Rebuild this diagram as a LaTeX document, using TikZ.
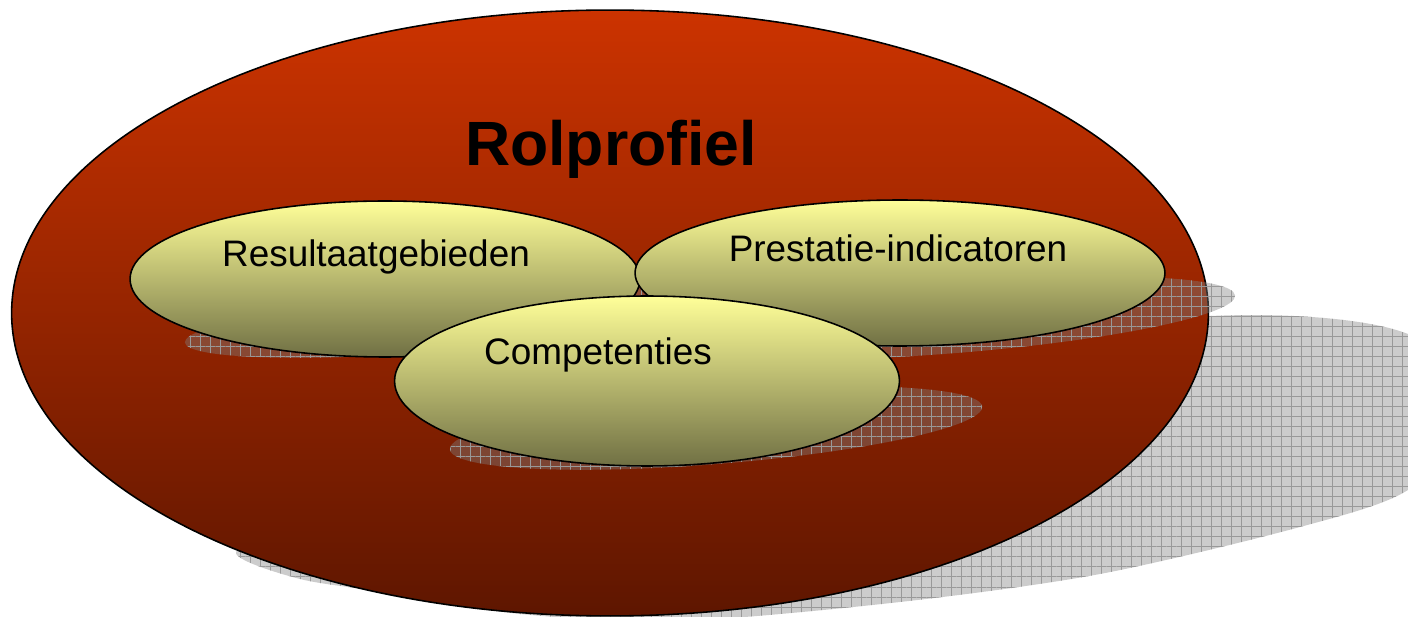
\documentclass[tikz,border=0pt]{standalone}
\usepackage{fontspec}
\setmainfont{Liberation Sans}
\usepackage{xcolor}
\usetikzlibrary{shapes.geometric, patterns.meta}
\definecolor{rolTop}{RGB}{204,51,0}
\definecolor{rolBot}{RGB}{94,22,0}
\definecolor{elTop}{RGB}{255,255,153}
\definecolor{elMid}{RGB}{230,230,142}
\definecolor{elBot}{RGB}{112,112,68}

\begin{document}
\begin{tikzpicture}[x=0.02cm, y=-0.02cm,
  every node/.style={font=\fontsize{21}{25}\selectfont},
  rol/.style={draw, ellipse, line width=0.9pt, top color=rolTop, bottom color=rolBot, inner sep=0pt},
  el/.style={draw, ellipse, line width=0.9pt, top color=elTop, middle color=elMid, bottom color=elBot, inner sep=0pt},
  shfill/.style={fill=gray, fill opacity=0.4},
  shgrid/.style={pattern={Hatch[distance=5.7pt, line width=0.5pt]}, pattern color=gray!80, fill opacity=0.75},
  lbl/.style={anchor=base, inner sep=0pt}]
\useasboundingbox (0,0) rectangle (1408,617);
\fill[shfill] plot[smooth cycle] coordinates {(236,552) (300,579) (400,594) (520,614) (680,621) (900,602) (1100,574) (1300,527) (1408,490) (1470,420) (1408,334) (1210,316) (800,360) (400,470) (320,524)};
\fill[shgrid] plot[smooth cycle] coordinates {(236,552) (300,579) (400,594) (520,614) (680,621) (900,602) (1100,574) (1300,527) (1408,490) (1470,420) (1408,334) (1210,316) (800,360) (400,470) (320,524)};
\node[rol, minimum width=23.94cm, minimum height=12.12cm] (rol) at (610,313) {};
\node[lbl, font=\fontsize{35.6}{40}\selectfont\bfseries] (roltxt) at ([xshift=0.02cm, yshift=2.96cm]rol.center) {Rolprofiel};
\foreach \cx/\cy/\rx/\ry in {452/321/268/30, 955/318/281/35, 716/428/267/36} {
  \fill[shfill, rotate around={4.6:(\cx,\cy)}] (\cx,\cy) ellipse [x radius=\rx, y radius=\ry];
  \fill[shgrid, rotate around={4.6:(\cx,\cy)}] (\cx,\cy) ellipse [x radius=\rx, y radius=\ry];
}
\node[el, minimum width=10.2cm, minimum height=3.12cm] (res) at (385,279) {};
\node[el, minimum width=10.6cm, minimum height=2.92cm] (pre) at (900,273) {};
\node[el, minimum width=10.1cm, minimum height=3.4cm] (com) at (647,381) {};
\node[lbl] (restxt) at ([xshift=-0.18cm, yshift=0.25cm]res.center) {Resultaatgebieden};
\node[lbl] (pretxt) at ([xshift=-0.04cm, yshift=0.23cm]pre.center) {Prestatie-indicatoren};
\node[lbl] (comtxt) at ([xshift=-0.98cm, yshift=0.33cm]com.center) {Competenties};
\end{tikzpicture}
\end{document}
